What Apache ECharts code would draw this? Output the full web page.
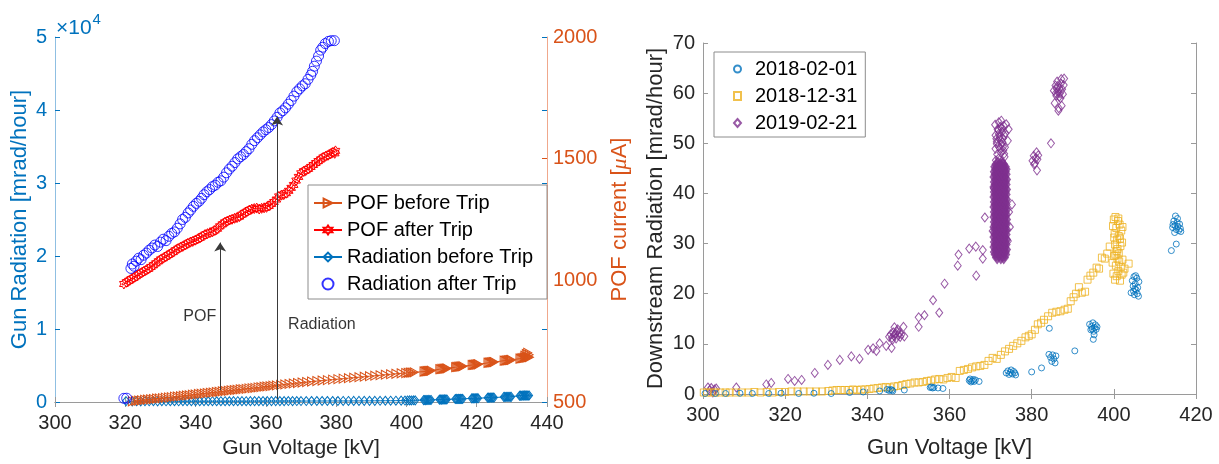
<!DOCTYPE html>
<html>
<head>
<meta charset="utf-8">
<title>Gun radiation and POF current vs gun voltage</title>
<script src="https://cdn.jsdelivr.net/npm/echarts@6/dist/echarts.min.js"></script>
<style>
  html, body { margin: 0; padding: 0; background: #ffffff; }
  #chart { width: 1219px; height: 464px; }
</style>
</head>
<body>
<div id="chart"></div>
<script>
// ---------------- Left panel: gun radiation and POF current ----------------
// [gun voltage kV, POF current uA]
const pofBeforeTrip = [
  [322.0,503],[323.0,505],[323.8,506],[324.6,507],[325.5,509],[326.3,510],[327.2,511],[328.0,512],
  [328.9,514],[329.7,515],[330.6,516],[331.4,518],[332.3,519],[333.1,520],[334.0,522],[334.8,523],
  [335.7,524],[336.5,526],[337.4,527],[338.2,528],[339.1,530],[339.9,531],[340.8,533],[341.6,534],
  [342.5,535],[343.3,537],[344.2,538],[345.0,539],[345.9,541],[346.7,542],[347.6,544],[348.4,545],
  [349.3,546],[350.1,548],[351.0,549],[351.8,550],[352.7,552],[353.5,553],[354.4,554],[355.2,556],
  [356.1,557],[356.9,558],[357.8,560],[358.6,561],[359.5,563],[360.3,564],[361.2,565],[362.0,567],
  [363.0,568],[364.2,570],[365.4,572],[366.6,574],[367.8,576],[369.0,578],[370.3,580],[371.6,582],
  [373.0,584],[374.5,586],[376.0,588],[377.5,590],[379.0,592],[380.5,594],[382.0,596],[383.5,598],
  [385.0,600],[386.5,602],[388.0,604],[389.5,606],[391.0,608],[392.5,610],[394.0,612],[395.5,614],
  [397.0,616],[398.5,618],[399.8,619],[400.5,620],[401.1,621],[401.6,621],[402.2,622],
  [405.0,625],[405.3,626],[405.6,626],[405.9,627],[406.2,627],[406.5,628],[406.8,628],[407.1,629],
  [409.5,635],[409.8,635],[410.1,636],[410.4,636],[410.7,637],[411.0,637],[411.3,638],[411.6,638],
  [414.0,643],[414.3,644],[414.6,644],[414.9,645],[415.2,645],[415.5,646],[415.8,646],[416.1,647],
  [418.7,652],[419.0,653],[419.3,653],[419.6,654],[419.9,654],[420.2,655],[420.5,655],
  [423.2,661],[423.5,662],[423.8,662],[424.1,663],[424.4,663],[424.7,664],[425.0,664],
  [427.8,670],[428.1,670],[428.4,671],[428.7,671],[429.0,672],[429.3,672],[429.6,673],[429.9,673],
  [432.3,678],[432.6,679],[432.9,680],[433.2,680],[433.5,681],[433.8,682],[434.1,682],[434.4,683],
  [434.7,684],[435.0,684],[433.7,690],[434.1,697],[434.5,702],[434.9,694]
];
const pofAfterTrip = [
  [319.6,985],[320.3,992],[321.0,998],[321.7,1005],[322.4,1010],[323.1,1017],[323.8,1024],[324.5,1030],
  [325.2,1036],[325.9,1042],[326.6,1047],[327.3,1055],[328.0,1062],[328.7,1070],[329.4,1078],[330.1,1086],
  [330.8,1091],[331.5,1097],[332.2,1104],[332.9,1110],[333.6,1116],[334.3,1124],[335.0,1130],[335.7,1136],
  [336.4,1140],[337.1,1146],[337.8,1152],[338.5,1157],[339.2,1160],[339.9,1165],[340.6,1170],[341.3,1175],
  [342.0,1182],[342.7,1188],[343.4,1192],[344.1,1196],[344.8,1199],[345.5,1205],[346.2,1212],[346.9,1222],
  [347.6,1230],[348.3,1238],[349.0,1243],[349.7,1248],[350.4,1251],[351.1,1255],[351.8,1258],[352.5,1262],
  [353.2,1270],[353.9,1277],[354.6,1282],[355.3,1289],[356.0,1293],[356.7,1295],[357.4,1297],[358.1,1293],
  [358.8,1296],[359.5,1298],[360.2,1300],[360.9,1306],[361.6,1314],[362.3,1322],[363.0,1332],[363.7,1345],
  [364.4,1350],[365.1,1352],[365.8,1358],[366.5,1368],[367.2,1380],[367.9,1392],[368.6,1410],[369.3,1425],
  [370.0,1440],[370.7,1448],[371.4,1452],[372.1,1458],[372.8,1466],[373.5,1474],[374.2,1482],[374.9,1490],
  [375.6,1497],[376.3,1505],[377.0,1510],[377.7,1514],[378.4,1520],[379.1,1526],[379.6,1522],[379.8,1532]
];
// [gun voltage kV, radiation mrad/hour]
const radiationBeforeTrip = [
  [320.2,120],[322.0,90],[323.2,100],[324.4,90],[325.6,100],[326.8,95],[328.0,100],[329.2,90],[330.4,100],
  [331.6,95],[332.8,100],[334.0,105],[335.2,95],[336.4,100],[337.6,105],[338.8,100],[340.0,105],[341.2,100],
  [342.4,110],[343.6,105],[344.8,110],[346.0,105],[347.2,110],[348.4,110],[349.6,105],[350.8,115],[352.0,110],
  [353.2,115],[354.4,110],[355.6,115],[356.8,120],[358.0,115],[359.2,120],[360.4,120],[361.6,125],[362.8,120],
  [364.0,125],[365.2,125],[366.4,130],[367.6,125],[368.8,130],[370.0,130],[371.5,130],[373.0,135],[374.5,135],
  [376.0,135],[377.5,140],[379.0,140],[380.5,140],[382.0,145],[383.5,145],[385.0,150],[386.5,150],[388.0,155],
  [389.5,155],[391.0,160],[392.5,165],[394.0,170],[395.5,175],[397.0,180],[398.5,190],[399.6,200],[400.3,210],
  [400.9,220],[401.4,215],[402.0,230],[402.5,225],
  [404.9,260],[405.2,270],[405.5,255],[405.8,280],[406.1,265],[406.4,285],[406.7,270],[407.0,280],
  [409.4,330],[409.7,345],[410.0,325],[410.3,350],[410.6,335],[410.9,355],[411.2,340],[411.5,350],
  [413.9,410],[414.2,425],[414.5,405],[414.8,430],[415.1,415],[415.4,435],[415.7,420],[416.0,430],
  [418.6,500],[418.9,515],[419.2,495],[419.5,520],[419.8,505],[420.1,525],[420.4,510],
  [423.1,590],[423.4,605],[423.7,585],[424.0,610],[424.3,595],[424.6,615],[424.9,600],
  [427.7,690],[428.0,705],[428.3,685],[428.6,710],[428.9,695],[429.2,715],[429.5,700],[429.8,705],
  [432.2,860],[432.5,880],[432.8,850],[433.1,900],[433.4,870],[433.7,910],[434.0,880],[434.3,905],[434.6,875],[434.9,895]
];
const radiationAfterTrip = [
  [319.6,500],[320.4,520],
  [321.6,18300],[322.0,18900],[322.5,18600],[323.1,19300],[323.8,19700],[324.5,19500],[325.2,20100],[326.0,20400],
  [326.8,20800],[327.6,21100],[328.4,21500],[329.2,21300],[330.0,21900],[330.8,22300],[331.6,22100],[332.4,22700],
  [333.2,23100],[334.0,23300],[334.8,23800],[335.6,24400],[336.3,25000],[337.1,25300],[337.9,25900],[338.6,26300],
  [339.4,26800],[340.2,27200],[341.0,27500],[341.7,27900],[342.4,28400],[343.2,28800],[344.0,29100],[344.8,29500],
  [345.6,29700],[346.4,30100],[347.2,30300],[348.0,30800],[348.8,31400],[349.6,31900],[350.4,32300],[351.2,32800],
  [352.0,33300],[352.8,33600],[353.6,33900],[354.4,34300],[355.2,34700],[356.0,35300],[356.8,35800],[357.6,36200],
  [358.4,36600],[359.2,37000],[360.0,37300],[360.8,37600],[361.6,38000],[362.4,38500],[363.2,39000],[364.0,39600],
  [364.8,39900],[365.6,40300],[366.4,40800],[367.2,41300],[368.0,41900],[368.8,42500],[369.6,42900],[370.4,43300],
  [371.2,43600],[372.0,44200],[372.8,44800],[373.3,45300],[373.8,46000],[374.4,46700],[375.0,47400],[375.6,48200],
  [376.2,48600],[376.9,49100],[377.8,49400],[378.6,49500],[379.5,49500]
];
// Annotation arrows: [voltage kV, start value, end value]
const pofArrow = [347.0, 548, 1155];          // on the POF current axis
const radiationArrow = [363.2, 400, 39100];   // on the radiation axis
const annotationText = ['POF', 'Radiation'];
const annotationAnchor = [[347.0, 852], [363.2, 10630]];

// ---------------- Right panel: downstream radiation by date ----------------
const dateLabels = ['2018-02-01', '2018-12-31', '2019-02-21'];
// [gun voltage kV, downstream radiation mrad/hour]
const run20180201 = [
  [300.5,0.1],[303.0,0.1],[305.5,0.1],[309.0,0.15],[312.0,0.1],[316.0,0.1],[319.0,0.15],[323.3,0.1],[327.0,0.15],
  [331.2,0.1],[335.7,0.3],[339.0,0.4],[343.0,0.6],[344.8,0.9],[345.3,0.7],[345.6,0.9],[346.0,0.8],[346.2,0.6],
  [349.0,0.8],[355.3,1.3],[355.6,1.4],[355.9,1.2],[356.2,1.3],[357.2,1.2],[358.4,1.1],
  [364.8,2.7],[365.0,3.0],[365.2,2.4],[365.5,2.6],[365.8,2.9],[366.0,2.5],[366.3,2.8],[367.2,2.5],
  [373.8,4.2],[374.2,4.6],[374.5,3.9],[374.8,4.3],[375.0,4.8],[375.3,4.0],[375.6,4.5],[375.9,4.2],[376.1,3.8],
  [380.0,4.4],[382.4,5.2],[384.3,13.1],[384.2,7.9],[384.6,7.3],[384.9,6.5],[385.1,7.8],[385.4,7.0],[385.7,6.2],
  [385.9,7.6],[390.5,8.6],
  [394.1,13.9],[394.4,12.8],[394.6,13.5],[394.9,14.2],[395.1,12.5],[395.3,13.2],[395.0,10.9],[395.5,13.8],
  [395.7,12.9],[395.2,11.8],[394.7,13.0],[395.9,13.4],
  [404.2,20.2],[404.5,22.6],[404.7,21.5],[404.9,23.4],[405.0,19.8],[405.2,22.0],[405.4,20.8],[405.6,23.1],
  [405.8,21.2],[406.0,19.5],[405.1,21.0],[405.3,23.6],[404.8,20.5],[406.1,22.4],[405.7,20.0],
  [414.0,28.6],[415.2,29.9],[414.3,33.2],[414.6,34.5],[414.9,33.6],[415.0,35.5],[415.2,32.8],[415.4,34.2],
  [415.6,33.4],[415.8,32.6],[416.0,33.9],[416.2,33.0],[414.8,32.2],[415.5,35.0],[416.3,32.4],[414.4,33.8]
];
const run20181231 = [
  [300.2,0.3],[301.0,0.3],[302.0,0.3],[303.0,0.3],[304.2,0.3],[305.5,0.3],[306.5,0.3],[308.0,0.3],[309.5,0.3],
  [311.0,0.3],[312.5,0.4],[314.0,0.3],[315.5,0.4],[317.0,0.3],[318.5,0.4],[320.0,0.4],[321.5,0.5],[323.0,0.5],
  [324.5,0.5],[326.0,0.5],[327.5,0.5],[329.0,0.5],[330.5,0.6],[331.5,0.7],[332.5,0.8],[333.5,0.8],[334.5,0.8],
  [335.5,0.8],[336.5,0.9],[337.5,0.8],[338.5,0.9],[339.5,0.9],[340.5,1.0],[341.5,1.1],[342.5,1.2],[343.5,1.3],
  [344.5,1.4],[345.5,1.3],[346.5,1.5],[347.5,1.6],[348.5,1.8],[349.5,2.0],[350.5,2.1],[351.5,2.3],[352.5,2.3],
  [353.5,2.4],[354.5,2.6],[355.5,2.7],[356.5,2.9],[357.5,3.0],[358.5,2.9],[359.5,3.2],[360.5,3.4],[361.5,3.2],
  [362.5,4.6],[363.5,4.8],[364.5,5.0],[365.5,5.3],[366.5,5.5],[367.5,5.6],[368.5,5.8],[369.5,6.6],[370.5,7.2],
  [371.5,7.0],[372.5,7.8],[373.5,8.5],[374.5,9.0],[375.5,9.6],[376.5,10.1],[377.5,10.6],[378.5,11.3],[379.3,11.6],
  [380.0,11.9],[380.8,12.8],[381.5,13.9],[382.3,14.2],[383.0,14.8],[384.0,15.5],[385.0,16.2],[386.0,16.4],
  [387.0,16.5],[388.0,16.8],[388.8,17.0],[389.5,18.5],[390.2,19.3],[390.8,20.0],[391.5,21.3],[392.2,20.2],
  [393.0,20.4],[393.6,22.8],[394.3,23.6],[395.0,24.2],[395.8,25.2],[396.4,25.0],[397.1,27.2],[397.8,27.0],
  [398.4,28.0],[399.0,29.4],
  [399.8,33.5],[400.0,34.8],[400.2,32.0],[400.4,35.3],[400.6,33.1],[400.8,30.8],[401.0,34.5],[401.2,31.5],
  [401.4,33.8],[401.6,29.5],[401.8,32.6],[402.0,30.2],[400.3,29.8],[401.1,35.0],[400.9,28.9],[401.5,31.0],
  [402.1,33.3],[400.1,31.2],[400.7,28.5],
  [399.7,26.2],[399.9,24.0],[400.1,27.5],[400.3,22.8],[400.5,25.6],[400.7,23.5],[400.9,27.0],[401.1,24.5],
  [401.3,26.4],[401.5,22.6],[401.7,25.3],[401.9,23.8],[402.1,26.8],[402.3,24.2],[400.4,27.8],[401.2,28.0],
  [403.6,26.0],[402.6,25.0]
];
const run20190221 = [
  [301.2,1.3],[301.6,0.7],[302.0,1.2],[302.4,0.3],[302.8,0.9],[303.2,1.1],[308.1,1.3],[315.4,1.9],[316.6,2.2],
  [320.7,3.0],[322.3,2.6],[324.0,2.8],[327.2,4.2],[330.4,5.8],[333.3,6.8],[336.1,7.5],[338.1,7.0],[340.2,8.8],
  [341.4,9.1],[342.2,8.6],[343.0,10.1],[344.6,9.6],[345.9,9.2],
  [345.3,11.4],[345.7,11.9],[346.0,11.2],[346.3,12.3],[346.5,11.6],[346.8,12.0],[347.0,11.1],[347.2,12.5],
  [347.5,11.7],[347.8,12.2],[348.0,11.4],[346.6,13.3],[347.4,12.9],[346.1,10.8],[348.3,11.9],[348.8,13.4],[349.0,11.5],
  [352.5,13.4],[352.5,15.3],[353.9,15.7],[356.0,18.7],[357.5,16.2],[358.8,22.0],[362.0,25.6],[362.2,27.8],
  [364.8,29.0],[366.4,29.4],[366.5,23.6],[368.1,27.0],[368.1,28.7],[368.6,35.2],[375.2,37.8],[374.7,33.3],
  [370.5,32.5],[374.2,30.5],[374.5,36.3],[370.8,41.0],
  // sparser top of the band at ~372 kV
  [371.3,46.6],[372.0,47.0],[372.8,46.4],[373.4,47.3],[371.6,47.8],[372.5,48.1],[373.1,48.6],[371.2,48.9],
  [371.9,49.4],[372.7,49.8],[373.5,49.2],[371.5,50.3],[372.3,50.7],[373.0,51.0],[374.2,50.5],[371.2,51.6],
  [372.0,51.9],[372.8,52.3],[373.6,52.0],[374.4,52.8],[371.7,52.8],[372.4,53.3],[373.2,53.5],[371.1,53.7],
  [372.0,54.2],[373.8,53.8],[372.6,54.5],[371.5,49.9],[373.3,47.9],[371.8,46.2],[373.0,45.9],
  [371.4,50.9],[372.2,51.3],[372.9,50.2],[373.3,51.6],[371.9,52.6],[372.6,53.0],[373.0,49.3],[372.3,49.0],
  [380.2,46.5],[380.5,47.5],[380.8,46.0],[381.0,47.0],[381.2,48.2],[381.4,46.8],[381.6,47.6],[380.6,45.8],
  [381.3,44.6],[384.7,50.0],
  [385.4,60.5],[385.6,58.0],[385.8,61.5],[386.0,59.5],[386.2,62.3],[386.4,60.2],[386.6,57.0],[386.8,61.0],
  [387.0,59.0],[387.2,62.8],[387.4,60.8],[387.6,59.8],[387.8,61.6],[386.5,56.5],[387.3,57.5],[387.9,62.9],
  [386.1,60.9],[386.9,60.0],[386.3,61.4],[387.1,61.9],[386.7,59.3],[385.9,60.0]
];
// 2019-02-21: dense core of the ~372 kV band (thousands of overlapping samples)
const run20190221Core = [
  [371.6,27.2],[372.5,27.2],[373.2,27.2],
  [371.3,27.8],[372.0,27.8],[372.8,27.8],[373.5,27.8],
  [371.1,28.3],[371.8,28.3],[372.6,28.3],[373.4,28.3],
  [371.4,28.8],[372.2,28.8],[373.0,28.8],[373.7,28.8],
  [371.0,29.3],[371.7,29.3],[372.5,29.3],[373.3,29.3],
  [371.3,29.8],[372.1,29.8],[372.9,29.8],[373.6,29.8],
  [371.1,30.3],[371.9,30.3],[372.6,30.3],[373.4,30.3],
  [371.4,30.8],[372.2,30.8],[373.0,30.8],[373.7,30.8],
  [371.0,31.3],[371.8,31.3],[372.5,31.3],[373.3,31.3],
  [371.3,31.8],[372.1,31.8],[372.8,31.8],[373.6,31.8],
  [371.1,32.3],[371.9,32.3],[372.7,32.3],[373.4,32.3],
  [371.4,32.8],[372.2,32.8],[373.0,32.8],[373.7,32.8],
  [371.0,33.3],[371.7,33.3],[372.5,33.3],[373.3,33.3],
  [371.3,33.8],[372.0,33.8],[372.8,33.8],[373.6,33.8],
  [371.1,34.3],[371.9,34.3],[372.6,34.3],[373.4,34.3],
  [371.4,34.8],[372.2,34.8],[373.0,34.8],[373.7,34.8],
  [371.0,35.3],[371.8,35.3],[372.5,35.3],[373.3,35.3],
  [371.3,35.8],[372.1,35.8],[372.9,35.8],[373.6,35.8],
  [371.1,36.3],[371.9,36.3],[372.6,36.3],[373.4,36.3],
  [371.4,36.8],[372.2,36.8],[373.0,36.8],[373.7,36.8],
  [371.0,37.3],[371.7,37.3],[372.5,37.3],[373.3,37.3],
  [371.3,37.8],[372.0,37.8],[372.8,37.8],[373.6,37.8],
  [371.1,38.3],[371.9,38.3],[372.7,38.3],[373.4,38.3],
  [371.4,38.8],[372.2,38.8],[373.0,38.8],[373.7,38.8],
  [371.0,39.3],[371.8,39.3],[372.5,39.3],[373.3,39.3],
  [371.3,39.8],[372.1,39.8],[372.9,39.8],[373.6,39.8],
  [371.1,40.3],[371.9,40.3],[372.6,40.3],[373.4,40.3],
  [371.4,40.8],[372.2,40.8],[373.0,40.8],[373.7,40.8],
  [371.0,41.3],[371.7,41.3],[372.5,41.3],[373.3,41.3],
  [371.3,41.8],[372.0,41.8],[372.8,41.8],[373.6,41.8],
  [371.1,42.3],[371.9,42.3],[372.7,42.3],[373.4,42.3],
  [371.4,42.8],[372.2,42.8],[373.0,42.8],[373.7,42.8],
  [371.0,43.3],[371.8,43.3],[372.5,43.3],[373.3,43.3],
  [371.3,43.8],[372.1,43.8],[372.9,43.8],[373.6,43.8],
  [371.1,44.3],[371.9,44.3],[372.6,44.3],[373.4,44.3],
  [371.4,44.8],[372.2,44.8],[373.0,44.8],[373.6,44.8],
  [371.2,45.3],[371.9,45.3],[372.7,45.3],[373.4,45.3],
  [371.5,45.8],[372.3,45.8],[373.0,45.8]
];

// ---------------- styling ----------------
const FONT = '"Liberation Sans", Arial, Helvetica, sans-serif';
const TEXT = '#262626';
const FRAME = '#9a9a9a';
const C_BLUE = '#0072BD';
const C_ORANGE = '#D95319';
const C_RED = '#FF0000';
const C_PURE_BLUE = '#0000FF';
const C_YELLOW = '#EDB120';
const C_PURPLE = '#7E2F8E';
const CLEAR = 'rgba(0,0,0,0)';

const TRI_RIGHT = 'path://M0,0L8.66,5L0,10Z';
const HEXAGRAM = 'path://M0,-10L2.887,-5L8.66,-5L5.774,0L8.66,5L2.887,5L0,10L-2.887,5L-8.66,5L-5.774,0L-8.66,-5L-2.887,-5Z';

function hollow(color, width) {
  return { color: CLEAR, borderColor: color, borderWidth: width || 1 };
}
function frameX(gridIndex, min, max) {
  return {
    gridIndex, type: 'value', min, max, interval: 20, position: 'top',
    axisLine: { show: true, lineStyle: { color: FRAME, width: 1 } },
    axisTick: { show: true, inside: true, length: 5, lineStyle: { color: FRAME } },
    axisLabel: { show: false }, splitLine: { show: false }
  };
}

const option = {
  animation: false,
  backgroundColor: '#ffffff',
  textStyle: { fontFamily: FONT },
  grid: [
    { left: 55, top: 37, width: 492, height: 366 },
    { left: 703, top: 43, width: 493, height: 353 }
  ],
  xAxis: [
    {
      gridIndex: 0, type: 'value', min: 300, max: 440, interval: 20, position: 'bottom',
      axisLine: { show: true, onZero: false, lineStyle: { color: FRAME, width: 1 } },
      axisTick: { show: true, inside: true, length: 5, lineStyle: { color: FRAME } },
      axisLabel: { color: TEXT, fontSize: 20, fontFamily: FONT, margin: 11 },
      splitLine: { show: false },
      name: 'Gun Voltage [kV]', nameLocation: 'middle', nameGap: 36,
      nameTextStyle: { color: TEXT, fontSize: 21, fontFamily: FONT }
    },
    frameX(0, 300, 440),
    {
      gridIndex: 1, type: 'value', min: 300, max: 420, interval: 20, position: 'bottom',
      axisLine: { show: true, onZero: false, lineStyle: { color: FRAME, width: 1 } },
      axisTick: { show: true, inside: true, length: 5, lineStyle: { color: FRAME } },
      axisLabel: { color: TEXT, fontSize: 20, fontFamily: FONT, margin: 11 },
      splitLine: { show: false },
      name: 'Gun Voltage [kV]', nameLocation: 'middle', nameGap: 43,
      nameTextStyle: { color: TEXT, fontSize: 22, fontFamily: FONT }
    },
    frameX(1, 300, 420)
  ],
  yAxis: [
    {
      gridIndex: 0, type: 'value', min: 0, max: 50000, interval: 10000, position: 'left',
      axisLine: { show: true, onZero: false, lineStyle: { color: '#8fbfe2', width: 1 } },
      axisTick: { show: true, inside: true, length: 5, lineStyle: { color: C_BLUE } },
      axisLabel: { color: C_BLUE, fontSize: 20, fontFamily: FONT, margin: 8, formatter: v => String(v / 10000) },
      splitLine: { show: false },
      name: 'Gun Radiation [mrad/hour]', nameLocation: 'middle', nameGap: 24,
      nameTextStyle: { color: C_BLUE, fontSize: 22, fontFamily: FONT }
    },
    {
      gridIndex: 0, type: 'value', min: 500, max: 2000, interval: 500, position: 'right',
      axisLine: { show: true, onZero: false, lineStyle: { color: '#f0a88c', width: 1 } },
      axisTick: { show: true, inside: true, length: 5, lineStyle: { color: C_ORANGE } },
      axisLabel: { color: C_ORANGE, fontSize: 20, fontFamily: FONT, margin: 6, formatter: v => String(v) },
      splitLine: { show: false },
      name: 'POF current [{i|μ}A]', nameLocation: 'middle', nameGap: 62, nameRotate: 90,
      nameTextStyle: {
        color: C_ORANGE, fontSize: 22, fontFamily: FONT,
        rich: { i: { color: C_ORANGE, fontSize: 22, fontStyle: 'italic', fontFamily: '"Liberation Serif", serif' } }
      }
    },
    {
      // radiation ticks mirrored on the right edge
      gridIndex: 0, type: 'value', min: 0, max: 50000, interval: 10000, position: 'right',
      axisLine: { show: false },
      axisTick: { show: true, inside: true, length: 5, lineStyle: { color: C_BLUE } },
      axisLabel: { show: false }, splitLine: { show: false }
    },
    {
      gridIndex: 1, type: 'value', min: 0, max: 70, interval: 10, position: 'left',
      axisLine: { show: true, onZero: false, lineStyle: { color: FRAME, width: 1 } },
      axisTick: { show: true, inside: true, length: 5, lineStyle: { color: FRAME } },
      axisLabel: { color: TEXT, fontSize: 20, fontFamily: FONT, margin: 8 },
      splitLine: { show: false },
      name: 'Downstream Radiation [mrad/hour]', nameLocation: 'middle', nameGap: 36,
      nameTextStyle: { color: TEXT, fontSize: 22, fontFamily: FONT }
    },
    {
      gridIndex: 1, type: 'value', min: 0, max: 70, interval: 10, position: 'right',
      axisLine: { show: true, onZero: false, lineStyle: { color: FRAME, width: 1 } },
      axisTick: { show: true, inside: true, length: 5, lineStyle: { color: FRAME } },
      axisLabel: { show: false }, splitLine: { show: false }
    }
  ],
  legend: [
    {
      orient: 'vertical', left: 308, top: 185,
      padding: [8, 14, 5, 5], itemGap: 7, itemWidth: 28, itemHeight: 11,
      backgroundColor: '#ffffff', borderColor: '#8c8c8c', borderWidth: 1,
      textStyle: { color: '#000000', fontSize: 20, fontFamily: FONT, lineHeight: 20 },
      data: ['POF before Trip', 'POF after Trip', 'Radiation before Trip', 'Radiation after Trip']
    },
    {
      orient: 'vertical', left: 714, top: 52,
      padding: [7, 8, 4, 19], itemGap: 7, itemWidth: 7, itemHeight: 8,
      backgroundColor: '#ffffff', borderColor: '#8c8c8c', borderWidth: 1,
      textStyle: { color: '#000000', fontSize: 20, fontFamily: FONT, lineHeight: 20, padding: [0, 0, 0, 9] },
      data: dateLabels
    }
  ],
  graphic: [
    {
      type: 'text', left: 56, top: 12, silent: true,
      style: {
        text: '{a|×10}{b|4}',
        rich: {
          a: { fontSize: 21, fontFamily: FONT, fill: C_BLUE, verticalAlign: 'bottom' },
          b: { fontSize: 15, fontFamily: FONT, fill: C_BLUE, verticalAlign: 'top', padding: [0, 0, 12, 1] }
        }
      }
    }
  ],
  series: [
    {
      name: 'POF before Trip', type: 'line', xAxisIndex: 0, yAxisIndex: 1,
      data: pofBeforeTrip, showAllSymbol: true,
      symbol: TRI_RIGHT, symbolSize: [8, 9], symbolKeepAspect: false,
      itemStyle: hollow(C_ORANGE), lineStyle: { color: C_ORANGE, width: 1 }, z: 3
    },
    {
      name: 'POF after Trip', type: 'line', xAxisIndex: 0, yAxisIndex: 1,
      data: pofAfterTrip, showAllSymbol: true,
      symbol: HEXAGRAM, symbolSize: 10, symbolKeepAspect: true,
      itemStyle: hollow(C_RED), lineStyle: { color: C_RED, width: 1 }, z: 3,
      markLine: {
        silent: true, symbol: ['none', 'arrow'], symbolSize: 9,
        lineStyle: { color: '#3a3a3a', width: 1, type: 'solid' }, label: { show: false },
        data: [[{ coord: [pofArrow[0], pofArrow[1]] }, { coord: [pofArrow[0], pofArrow[2]] }]]
      }
    },
    {
      name: 'Radiation before Trip', type: 'line', xAxisIndex: 0, yAxisIndex: 0,
      data: radiationBeforeTrip, showAllSymbol: true,
      symbol: 'diamond', symbolSize: [7, 9],
      itemStyle: hollow(C_BLUE), lineStyle: { color: C_BLUE, width: 1 }, z: 2
    },
    {
      name: 'Radiation after Trip', type: 'scatter', xAxisIndex: 0, yAxisIndex: 0,
      data: radiationAfterTrip, symbol: 'circle', symbolSize: 10,
      itemStyle: hollow(C_PURE_BLUE), z: 4,
      markLine: {
        silent: true, symbol: ['none', 'arrow'], symbolSize: 9,
        lineStyle: { color: '#3a3a3a', width: 1, type: 'solid' }, label: { show: false },
        data: [[{ coord: [radiationArrow[0], radiationArrow[1]] }, { coord: [radiationArrow[0], radiationArrow[2]] }]]
      }
    },
    {
      name: 'pof-note', type: 'scatter', xAxisIndex: 0, yAxisIndex: 1, silent: true,
      symbolSize: 0,
      data: [{ value: annotationAnchor[0] }],
      label: { show: true, formatter: annotationText[0], position: 'left', distance: 4,
               color: '#000000', fontSize: 16, fontFamily: FONT }
    },
    {
      name: 'radiation-note', type: 'scatter', xAxisIndex: 0, yAxisIndex: 0, silent: true,
      symbolSize: 0,
      data: [{ value: annotationAnchor[1] }],
      label: { show: true, formatter: annotationText[1], position: 'right', distance: 11,
               color: '#000000', fontSize: 16, fontFamily: FONT }
    },
    {
      name: dateLabels[0], type: 'scatter', xAxisIndex: 2, yAxisIndex: 3,
      data: run20180201, symbol: 'circle', symbolSize: 6, itemStyle: hollow(C_BLUE), z: 4
    },
    {
      name: dateLabels[1], type: 'scatter', xAxisIndex: 2, yAxisIndex: 3,
      data: run20181231, symbol: 'rect', symbolSize: 7, itemStyle: hollow(C_YELLOW), z: 3
    },
    {
      name: dateLabels[2], type: 'scatter', xAxisIndex: 2, yAxisIndex: 3,
      data: run20190221, symbol: 'diamond', symbolSize: [7, 9], itemStyle: hollow(C_PURPLE), z: 2
    },
    {
      // same run; the overlapping samples merge into a solid band
      name: dateLabels[2], type: 'scatter', xAxisIndex: 2, yAxisIndex: 3,
      data: run20190221Core, symbol: 'diamond', symbolSize: [7, 9], itemStyle: hollow(C_PURPLE, 3), z: 2
    }
  ]
};

const chart = echarts.init(document.getElementById('chart'), null, { renderer: 'canvas' });
chart.setOption(option);
</script>
</body>
</html>
